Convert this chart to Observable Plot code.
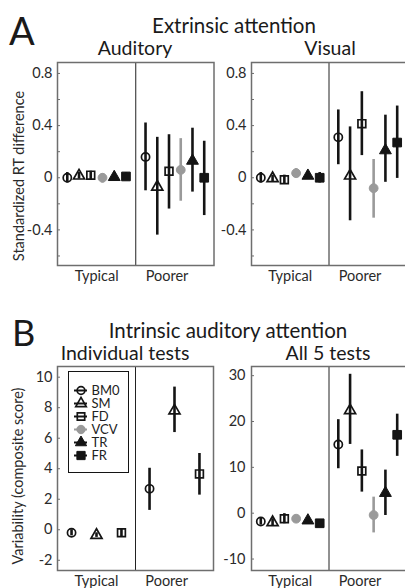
<!DOCTYPE html>
<html><head><meta charset="utf-8">
<script src="https://cdn.jsdelivr.net/npm/d3@7"></script>
<script src="https://cdn.jsdelivr.net/npm/@observablehq/plot@0.6"></script>
<style>
html,body{margin:0;padding:0;background:#fff;overflow:hidden;}
#wrap{position:relative;width:405px;height:588px;overflow:hidden;background:#fff;font-family:Lato,sans-serif;}
#wrap > svg, #wrap > figure{position:absolute;margin:0;}
</style></head><body><div id="wrap"></div>
<script>
// ---------- data ----------
const seriesNames = ["BM0","SM","FD","VCV","TR","FR"];
const groupNames = ["Typical","Poorer"];

// A – Auditory (standardized RT difference)
const audTypMean  = [0.00, 0.015, 0.02, 0.00, 0.005, 0.01];
const audTypLow   = [-0.04, -0.01, -0.02, -0.04, -0.015, -0.02];
const audTypHigh  = [0.04, 0.04, 0.05, 0.03, 0.03, 0.04];
const audPoorMean = [0.16, -0.07, 0.05, 0.06, 0.13, 0.00];
const audPoorLow  = [-0.10, -0.44, -0.24, -0.18, -0.11, -0.29];
const audPoorHigh = [0.42, 0.31, 0.33, 0.30, 0.38, 0.28];

// A – Visual
const visTypMean  = [0.00, -0.005, -0.015, 0.035, 0.015, 0.00];
const visTypLow   = [-0.04, -0.03, -0.05, 0.00, -0.01, -0.04];
const visTypHigh  = [0.04, 0.02, 0.02, 0.07, 0.05, 0.04];
const visPoorMean = [0.31, 0.015, 0.415, -0.08, 0.21, 0.27];
const visPoorLow  = [0.10, -0.33, 0.17, -0.31, -0.035, -0.005];
const visPoorHigh = [0.52, 0.39, 0.66, 0.14, 0.48, 0.55];

// B – Individual tests (only BM0, SM, FD)
const indivNames  = ["BM0","SM","FD"];
const indTypMean  = [-0.2, -0.35, -0.2];
const indTypLow   = [-0.4, -0.5, -0.45];
const indTypHigh  = [0.0, -0.2, 0.05];
const indPoorMean = [2.68, 7.8, 3.66];
const indPoorLow  = [1.27, 6.37, 2.27];
const indPoorHigh = [4.03, 9.35, 5.0];

// B – All 5 tests
const allTypMean  = [-1.8, -2.0, -1.2, -1.2, -1.6, -2.2];
const allTypLow   = [-2.6, -2.8, -2.3, -1.9, -2.2, -2.7];
const allTypHigh  = [-1.0, -1.2, -0.1, -0.5, -1.0, -1.7];
const allPoorMean = [15.0, 22.4, 9.2, -0.4, 4.4, 17.1];
const allPoorLow  = [9.7, 15.0, 4.6, -4.3, -0.5, 12.4];
const allPoorHigh = [20.4, 30.3, 13.8, 3.5, 9.4, 21.6];

// tick values
const yTicksA     = [-0.4, 0, 0.4, 0.8];
const yMinorA     = [-0.6, -0.2, 0.2, 0.6];
const yTicksInd   = [-2, 0, 2, 4, 6, 8, 10];
const yTicksAll   = [-10, 0, 10, 20, 30];

// ---------- styles ----------
const BLACK = "#141414", GRAY = "#9a9a9a", FRAME = "#6e6e6e";
const seriesStyle = {
  BM0: {symbol: "circle",   fill: "none", stroke: BLACK, r: 4.1, sw: 1.7},
  SM:  {symbol: "triangle", fill: "none", stroke: BLACK, r: 4.1, sw: 1.7},
  FD:  {symbol: "square",   fill: "none", stroke: BLACK, r: 4.4, sw: 1.7},
  VCV: {symbol: "circle",   fill: GRAY,   stroke: GRAY,  r: 4.4, sw: 1},
  TR:  {symbol: "triangle", fill: BLACK,  stroke: BLACK, r: 4.4, sw: 1},
  FR:  {symbol: "square",   fill: BLACK,  stroke: BLACK, r: 4.9, sw: 1}
};
const FONT = "Lato, sans-serif";
const TICK_FS = 14.5;
const wrap = document.getElementById("wrap");

function place(node, left, top) {
  node.style.position = "absolute";
  node.style.left = left + "px";
  node.style.top = top + "px";
  wrap.appendChild(node);
}

function panel(cfg) {
  const names = cfg.names;
  const n = names.length;
  const rows = [];
  names.forEach((name, i) => {
    rows.push({series: name, group: 0, i, y: cfg.typ[0][i], lo: cfg.typ[1][i], hi: cfg.typ[2][i]});
    rows.push({series: name, group: 1, i, y: cfg.poor[0][i], lo: cfg.poor[1][i], hi: cfg.poor[2][i]});
  });
  const xPos = d => d.group + (d.i - (n - 1) / 2) * cfg.step;
  const tickLen = 3 / ((cfg.width - cfg.mL - cfg.mR) / 2);
  const marks = [
    Plot.ruleX([0.5], {stroke: "#222", strokeWidth: 1}),
    Plot.ruleY(cfg.allTicks, {y: d => d, x1: -0.5, x2: -0.5 + tickLen, stroke: FRAME, strokeWidth: 1}),
    Plot.axisY({ticks: cfg.yTicks, tickFormat: d => String(d), tickSize: 0, tickPadding: cfg.tickPad,
      fontSize: TICK_FS, label: null, fill: "#2a2a2a"}),
    Plot.axisX({ticks: [0, 0.9], tickFormat: d => groupNames[Math.round(d)], tickSize: 0, tickPadding: 5,
      fontSize: TICK_FS, label: null, fill: "#2a2a2a"})
  ];
  names.forEach(name => {
    const s = seriesStyle[name];
    marks.push(Plot.ruleX(rows.filter(r => r.series === name), {
      x: xPos, y1: "lo", y2: "hi", stroke: s.stroke === GRAY ? GRAY : BLACK, strokeWidth: 2.6}));
  });
  names.forEach(name => {
    const s = seriesStyle[name];
    marks.push(Plot.dot(rows.filter(r => r.series === name), {
      x: xPos, y: "y", symbol: s.symbol, r: s.r, fill: s.fill, stroke: s.stroke, strokeWidth: s.sw}));
  });
  marks.push(Plot.frame({stroke: FRAME, strokeWidth: 1.5}));
  const svg = Plot.plot({
    width: cfg.width, height: cfg.height,
    marginLeft: cfg.mL, marginRight: cfg.mR, marginTop: cfg.mT, marginBottom: cfg.mB,
    x: {domain: [-0.5, 1.5]},
    y: {domain: cfg.yDomain},
    style: {fontFamily: FONT, fontSize: TICK_FS + "px", color: "#2a2a2a", background: "transparent", overflow: "visible"},
    marks
  });
  place(svg, cfg.left, cfg.top);
}

// Panel A – Auditory
panel({left: 0, top: 40, width: 216, height: 250, mL: 57, mR: 2.5, mT: 22, mB: 25,
  names: seriesNames, step: 0.15,
  typ: [audTypMean, audTypLow, audTypHigh], poor: [audPoorMean, audPoorLow, audPoorHigh],
  yDomain: [-0.673, 0.884], yTicks: yTicksA, allTicks: yTicksA.concat(yMinorA), tickPad: 5});

// Panel A – Visual
panel({left: 200, top: 40, width: 207, height: 250, mL: 51, mR: 1, mT: 22, mB: 25,
  names: seriesNames, step: 0.152,
  typ: [visTypMean, visTypLow, visTypHigh], poor: [visPoorMean, visPoorLow, visPoorHigh],
  yDomain: [-0.673, 0.884], yTicks: yTicksA, allTicks: yTicksA.concat(yMinorA), tickPad: 5});

// Panel B – Individual tests
panel({left: 0, top: 340, width: 216, height: 260, mL: 57, mR: 3, mT: 26, mB: 30,
  names: indivNames, step: 0.32,
  typ: [indTypMean, indTypLow, indTypHigh], poor: [indPoorMean, indPoorLow, indPoorHigh],
  yDomain: [-2.67, 10.7], yTicks: yTicksInd, allTicks: yTicksInd, tickPad: 5});

// Panel B – All 5 tests
panel({left: 200, top: 340, width: 207, height: 260, mL: 51, mR: 1, mT: 26, mB: 30,
  names: seriesNames, step: 0.152,
  typ: [allTypMean, allTypLow, allTypHigh], poor: [allPoorMean, allPoorLow, allPoorHigh],
  yDomain: [-12.5, 32], yTicks: yTicksAll, allTicks: yTicksAll, tickPad: 6});

// Legend (inside "Individual tests")
const legend = Plot.plot({
  width: 62, height: 103, marginTop: 1, marginLeft: 1, marginRight: 1, marginBottom: 1,
  x: {domain: [0, 60], range: [1, 61], axis: null},
  y: {type: "point", domain: seriesNames, range: [12, 93], axis: null},
  style: {fontFamily: FONT, fontSize: "13px", color: "#222", background: "#fff", overflow: "visible"},
  marks: [
    Plot.frame({stroke: BLACK, strokeWidth: 1, fill: "#fff"}),
    Plot.ruleY(seriesNames, {y: d => d, x1: 6, x2: 19, stroke: d => seriesStyle[d].stroke === GRAY ? GRAY : BLACK, strokeWidth: 2}),
    ...seriesNames.map(name => Plot.dot([name], {x: 12.5, y: d => d, symbol: seriesStyle[name].symbol,
      r: seriesStyle[name].r * 0.95, fill: seriesStyle[name].fill, stroke: seriesStyle[name].stroke,
      strokeWidth: seriesStyle[name].sw})),
    Plot.text(seriesNames, {x: 23, y: d => d, text: d => d, textAnchor: "start", lineHeight: 1, fontSize: 13, fill: "#222"})
  ]
});
place(legend, 67, 370);

// Titles and axis labels
const over = d3.create("svg").attr("width", 405).attr("height", 588)
  .style("position", "absolute").style("left", "0px").style("top", "0px")
  .style("font-family", FONT).style("pointer-events", "none");
const titles = [
  {t: "A", x: 9, y: 45, s: 38, a: "start"},
  {t: "Extrinsic attention", x: 234, y: 33, s: 20.5, a: "middle"},
  {t: "Auditory", x: 135, y: 55, s: 19.5, a: "middle"},
  {t: "Visual", x: 330, y: 55, s: 19.5, a: "middle"},
  {t: "B", x: 12, y: 346, s: 36, a: "start"},
  {t: "Intrinsic auditory attention", x: 228, y: 338, s: 20.5, a: "middle"},
  {t: "Individual tests", x: 125, y: 360, s: 19.5, a: "middle"},
  {t: "All 5 tests", x: 328, y: 360, s: 19.5, a: "middle"}
];
over.selectAll("text.title").data(titles).join("text").attr("class", "title")
  .attr("x", d => d.x).attr("y", d => d.y).attr("font-size", d => d.s)
  .attr("text-anchor", d => d.a).attr("fill", "#1a1a1a").text(d => d.t);
const yLabels = [
  {t: "Standardized RT difference", x: 24, y: 176},
  {t: "Variability (composite score)", x: 23, y: 476}
];
over.selectAll("text.ylab").data(yLabels).join("text").attr("class", "ylab")
  .attr("transform", d => `translate(${d.x},${d.y}) rotate(-90)`)
  .attr("font-size", 14.5).attr("text-anchor", "middle").attr("fill", "#2a2a2a").text(d => d.t);
wrap.appendChild(over.node());
</script>
</body></html>
